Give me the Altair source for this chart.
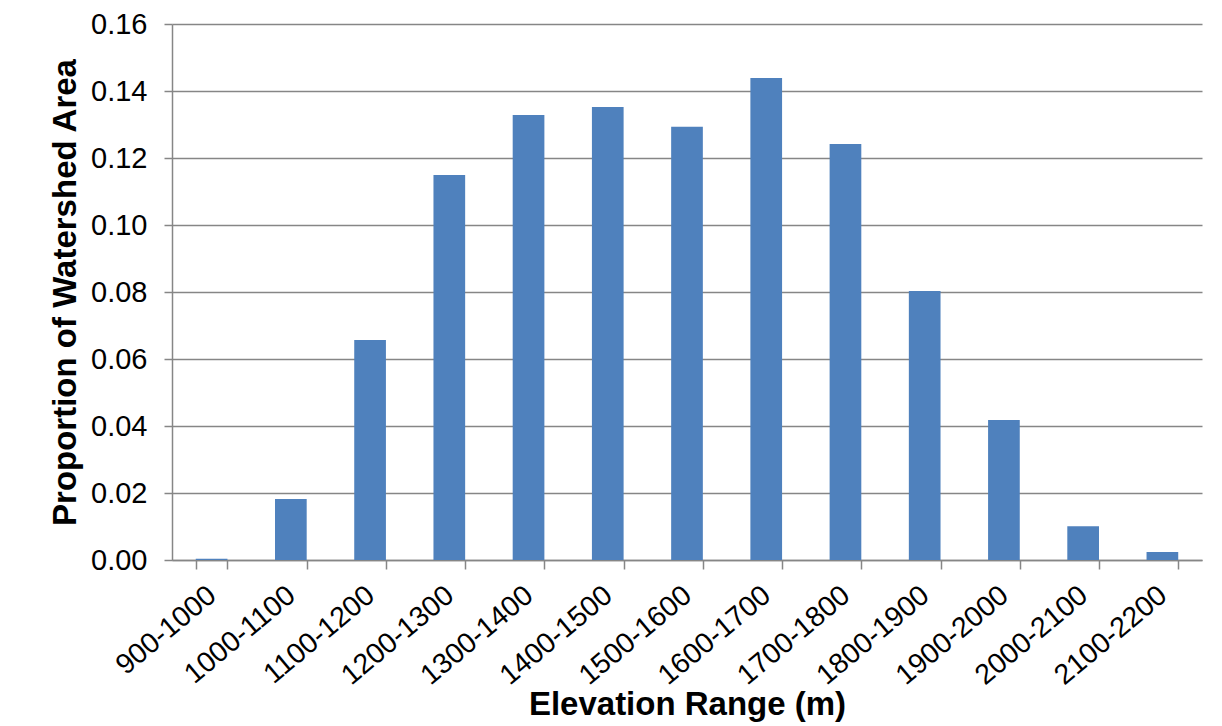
import altair as alt
import pandas as pd

categories = ["900-1000", "1000-1100", "1100-1200", "1200-1300", "1300-1400",
              "1400-1500", "1500-1600", "1600-1700", "1700-1800", "1800-1900",
              "1900-2000", "2000-2100", "2100-2200"]
proportions = [0.0004, 0.0182, 0.0657, 0.1149, 0.1328, 0.1352, 0.1293,
               0.1439, 0.1242, 0.0803, 0.0418, 0.0101, 0.0024]

df = pd.DataFrame({"range": categories, "prop": proportions})

FONT = "Liberation Sans"
GRID = "#868686"

chart = alt.Chart(df).mark_bar(color="#4F81BD").encode(
    x=alt.X("range:N", sort=categories,
            scale=alt.Scale(paddingInner=0.6, paddingOuter=0.3),
            axis=alt.Axis(title="Elevation Range (m)", labelAngle=-40,
                          labelAlign="right", labelBaseline="middle",
                          labelFont=FONT, labelFontSize=28.5, labelColor="#000000",
                          labelPadding=22, tickBand="extent", tickSize=9,
                          tickColor=GRID, domainColor=GRID, tickWidth=1.5, domainWidth=1.5,
                          grid=False,
                          titleFont=FONT, titleFontSize=33, titleFontWeight="bold",
                          titleColor="#000000", titleX=515, titleY=144,
                          titleBaseline="middle", titleAlign="center")),
    y=alt.Y("prop:Q", scale=alt.Scale(domain=[0, 0.16], nice=False),
            axis=alt.Axis(title="Proportion of Watershed Area", format=".2f",
                          values=[0, 0.02, 0.04, 0.06, 0.08, 0.10, 0.12, 0.14, 0.16],
                          labelFont=FONT, labelFontSize=29, labelColor="#000000",
                          labelPadding=17, tickSize=8, tickColor=GRID, tickWidth=1.5,
                          domainColor=GRID, domainWidth=1.5,
                          grid=True, gridColor=GRID, gridWidth=1.5,
                          titleFont=FONT, titleFontSize=33, titleFontWeight="bold",
                          titleColor="#000000", titleX=-107, titleY=268,
                          titleAngle=-90, titleAlign="center", titleBaseline="middle")),
).properties(
    width=1030, height=536,
    autosize=alt.AutoSizeParams(type="none"),
    padding={"left": 164, "top": 16, "right": 4, "bottom": 166},
).configure_view(stroke=None)

chart.save("out.html", embed_options={"renderer": "svg", "actions": False})
